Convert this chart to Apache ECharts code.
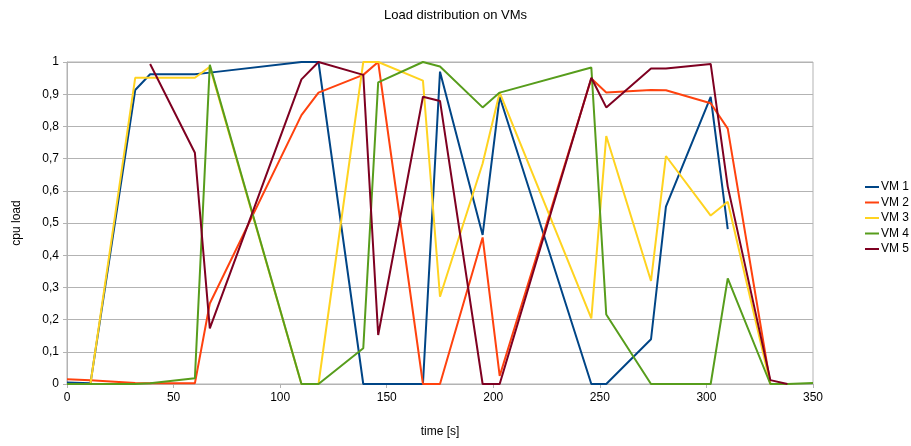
<!DOCTYPE html>
<html>
<head>
<meta charset="utf-8">
<script src="https://cdn.jsdelivr.net/npm/echarts@6/dist/echarts.min.js"></script>
<style>html,body{margin:0;padding:0;background:#fff}#c{width:911px;height:446px}</style>
</head>
<body>
<div id="c"></div>
<script>
var times = [0, 11, 32, 39, 60, 67, 110, 118, 139, 146, 167, 175, 195, 203, 246, 253, 274, 281, 302, 310, 330, 338, 350];
var vm1 = [0.005, 0.002, 0.913, 0.962, 0.962, 0.967, 1.0, 1.0, 0, 0, 0, 0.970, 0.463, 0.892, 0, 0, 0.139, 0.551, 0.892, 0.481, null, null, null];
var vm2 = [0.015, 0.012, 0.003, 0.002, 0.002, 0.250, 0.835, 0.905, 0.960, 1.0, 0, 0, 0.455, 0.025, 0.949, 0.905, 0.913, 0.912, 0.872, 0.793, 0, null, null];
var vm3 = [0, 0, 0.951, 0.951, 0.951, 0.985, 0, 0, 1.0, 1.0, 0.942, 0.271, 0.685, 0.905, 0.204, 0.770, 0.320, 0.708, 0.523, 0.566, 0, 0, null];
var vm4 = [0, 0, 0, 0.002, 0.018, 0.991, 0, 0, 0.111, 0.937, 1.0, 0.986, 0.859, 0.905, 0.983, 0.216, 0, 0, 0, 0.328, 0, 0, 0.003];
var vm5 = [null, null, null, 0.994, 0.718, 0.173, 0.946, 1.0, 0.960, 0.152, 0.892, 0.879, 0, 0, 0.951, 0.859, 0.980, 0.980, 0.994, 0.613, 0.012, 0, null];
var seriesNames = ['VM 1', 'VM 2', 'VM 3', 'VM 4', 'VM 5'];
var colors = ['#004586', '#ff420e', '#ffd320', '#579d1c', '#7e0021'];

var all = [vm1, vm2, vm3, vm4, vm5];
function pairs(vals) {
  var out = [];
  for (var i = 0; i < times.length; i++) {
    if (vals[i] !== null) out.push([times[i], vals[i]]);
  }
  return out;
}
var font = 'Liberation Sans, Arial, sans-serif';
var chart = echarts.init(document.getElementById('c'));
chart.setOption({
  animation: false,
  color: colors,
  title: {
    text: 'Load distribution on VMs', left: 'center', top: 4,
    textStyle: {fontFamily: font, fontSize: 13, fontWeight: 'normal', color: '#000'}
  },
  legend: {
    orient: 'vertical', left: 860, top: 176, itemWidth: 14, itemHeight: 2, itemGap: 3.5,
    icon: 'rect',
    textStyle: {fontFamily: font, fontSize: 12, color: '#000', padding: [0,0,0,-3]},
    data: seriesNames
  },
  grid: {left: 67, right: 98, top: 62, bottom: 62, show: true, borderColor: '#b3b3b3', borderWidth: 1},
  xAxis: {
    type: 'value', min: 0, max: 350, interval: 50,
    name: 'time [s]', nameLocation: 'middle', nameGap: 42,
    nameTextStyle: {fontFamily: font, fontSize: 12, color: '#000'},
    axisLine: {lineStyle: {color: '#b3b3b3'}},
    axisTick: {show: true, length: 4, lineStyle: {color: '#b3b3b3'}},
    axisLabel: {fontFamily: font, fontSize: 12, color: '#000', margin: 8},
    splitLine: {show: false}
  },
  yAxis: {
    type: 'value', min: 0, max: 1, interval: 0.1,
    name: 'cpu load', nameLocation: 'middle', nameGap: 44, nameRotate: 90,
    nameTextStyle: {fontFamily: font, fontSize: 12, color: '#000'},
    axisLine: {show: true, lineStyle: {color: '#b3b3b3'}},
    axisTick: {show: true, length: 4, lineStyle: {color: '#b3b3b3'}},
    axisLabel: {fontFamily: font, fontSize: 12, color: '#000', margin: 8,
      formatter: function (v) { if (v === 0) return '0'; if (v === 1) return '1'; return v.toFixed(1).replace('.', ','); }},
    splitLine: {show: true, lineStyle: {color: '#b3b3b3'}}
  },
  series: all.map(function (vals, i) {
    return {
      name: seriesNames[i], type: 'line', data: pairs(vals),
      showSymbol: false, symbol: 'none',
      lineStyle: {width: 2, color: colors[i]},
      itemStyle: {color: colors[i]}
    };
  })
});
</script>
</body>
</html>
